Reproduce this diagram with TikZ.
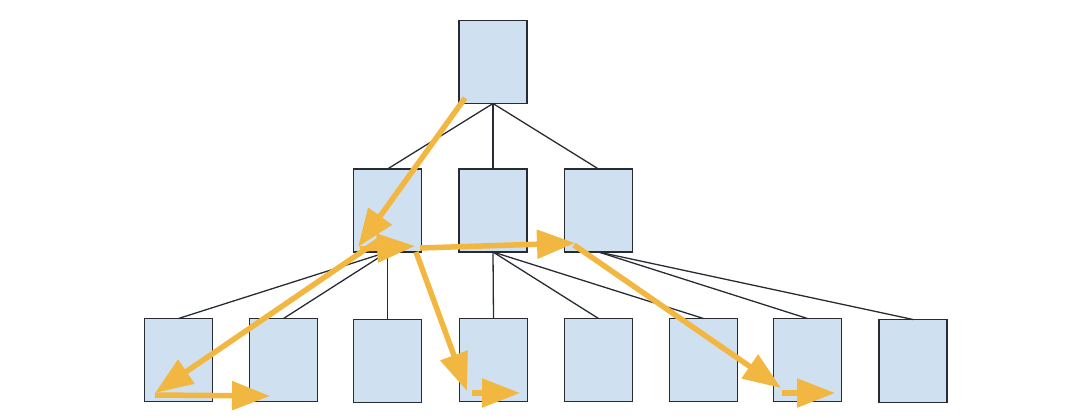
\documentclass[tikz,border=0pt]{standalone}
\usetikzlibrary{arrows.meta}
\definecolor{boxfill}{RGB}{207,224,241}
\definecolor{boxline}{RGB}{40,44,50}
\definecolor{walkcol}{RGB}{242,183,64}
\begin{document}
\begin{tikzpicture}[x=1pt,y=-1pt,
 box/.style={draw=boxline,line width=1.5pt,fill=boxfill,minimum width=68pt,minimum height=83pt,inner sep=0pt,outer sep=0pt},
 edge/.style={draw=boxline,line width=1.3pt},
 walk/.style={draw=walkcol,line width=5.5pt,-{Triangle[length=38pt,width=28pt]}}]
\useasboundingbox (0,0) rectangle (1080,418);
% boxes
\node[box] (r) at (493,62) {};
\node[box] (m1) at (387.5,210.5) {};
\node[box] (m2) at (493,210.5) {};
\node[box] (m3) at (598.5,210.5) {};
\node[box] (b1) at (178.5,360) {};
\node[box] (b2) at (283.5,360) {};
\node[box] (b3) at (387.5,361) {};
\node[box] (b4) at (493.5,360) {};
\node[box] (b5) at (598.5,360) {};
\node[box] (b6) at (703.5,360) {};
\node[box] (b7) at (807.5,360) {};
\node[box] (b8) at (913,361) {};
% tree edges
\foreach \c in {m1,m2,m3} \draw[edge] (r.south) -- (\c.north);
\foreach \c in {b1,b2,b3} \draw[edge] (m1.south) -- (\c.north);
\foreach \c in {b4,b5,b6} \draw[edge] (m2.south) -- (\c.north);
\foreach \c in {b7,b8} \draw[edge] (m3.south) -- (\c.north);
% walk coordinates
\coordinate (p0) at (465,98);
\coordinate (p1) at (358,247);
\coordinate (p2s) at (360,249);
\coordinate (p2) at (415,246);
\coordinate (p3s) at (382,238);
\coordinate (p3) at (155,393);
\coordinate (p4s) at (155,395);
\coordinate (p4) at (270,396);
\coordinate (p5s) at (416,252);
\coordinate (p5) at (467,391);
\coordinate (p6s) at (472,393);
\coordinate (p6) at (520,393);
\coordinate (p7s) at (420,248);
\coordinate (p7) at (575,243);
\coordinate (p8s) at (574,245);
\coordinate (p8) at (781,388);
\coordinate (p9s) at (782,393);
\coordinate (p9) at (835,393);
% walk arrows
\draw[walk] (p0) -- (p1);
\draw[walk] (p2s) -- (p2);
\draw[walk] (p3s) -- (p3);
\draw[walk] (p4s) -- (p4);
\draw[walk] (p5s) -- (p5);
\draw[walk] (p6s) -- (p6);
\draw[walk] (p7s) -- (p7);
\draw[walk] (p8s) -- (p8);
\draw[walk] (p9s) -- (p9);
\end{tikzpicture}
\end{document}
